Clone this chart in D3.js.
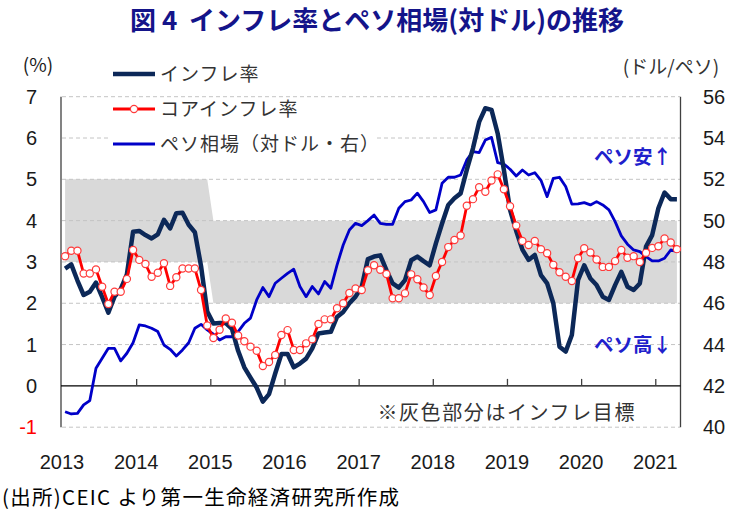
<!DOCTYPE html>
<html><head><meta charset="utf-8">
<script src="https://cdn.jsdelivr.net/npm/d3@7/dist/d3.min.js"></script>
<style>
body{margin:0;background:#fff}
svg{display:block}
text{font-family:"Noto Sans CJK JP","Noto Sans",sans-serif}
</style>
</head><body>
<svg id="chart" width="739" height="517"></svg>
<script>
// ---- data (monthly, Jan 2013 – Apr 2021) ----
const years = ["2013","2014","2015","2016","2017","2018","2019","2020","2021"];
const inflation = [2.84,2.94,2.55,2.20,2.28,2.50,2.15,1.77,2.16,2.34,2.70,3.73,
  3.75,3.65,3.57,3.67,4.02,3.81,4.18,4.19,3.90,3.72,2.90,1.80,
  1.51,1.52,1.52,1.38,0.85,0.45,0.20,-0.04,-0.38,-0.20,0.30,0.77,
  0.77,0.45,0.54,0.66,0.91,1.27,1.29,1.31,1.67,1.79,2.00,2.16,
  2.40,3.07,3.13,3.16,2.80,2.48,2.38,2.56,3.04,3.13,3.02,2.92,
  3.45,3.93,4.38,4.54,4.66,5.23,5.75,6.39,6.72,6.68,6.11,5.23,
  4.26,3.75,3.30,3.05,3.17,2.68,2.48,2.00,0.95,0.83,1.23,2.56,
  2.92,2.60,2.44,2.16,2.08,2.44,2.76,2.40,2.32,2.48,
  3.37,3.65,4.30,4.68,4.52,4.52];
const coreInflation = [3.14,3.27,3.27,2.72,2.72,2.82,2.40,1.98,2.28,2.28,2.59,3.29,
  3.05,2.95,2.64,2.74,2.97,2.42,2.63,2.84,2.84,2.84,2.32,1.46,
  1.16,1.36,1.63,1.53,1.22,1.08,0.95,0.85,0.48,0.58,0.75,1.23,
  1.35,0.87,0.87,1.03,1.13,1.50,1.61,1.61,1.88,2.00,2.25,2.36,
  2.32,2.80,2.92,2.81,2.71,2.12,2.12,2.24,2.70,2.58,2.38,2.20,
  2.66,3.00,3.36,3.53,3.64,4.36,4.52,4.81,4.70,4.97,5.12,4.76,
  4.35,3.88,3.51,3.41,3.51,3.31,3.21,2.93,2.75,2.64,2.54,3.09,
  3.33,3.23,3.06,2.88,2.88,3.02,3.29,3.10,3.14,3.00,
  3.22,3.34,3.38,3.57,3.47,3.31];
const peso = [40.75,40.64,40.67,41.08,41.29,42.85,43.34,43.82,43.82,43.21,43.58,44.09,
  44.95,44.90,44.79,44.63,43.98,43.77,43.45,43.74,44.09,44.79,44.98,44.71,
  44.50,44.22,44.38,44.38,44.63,45.03,45.28,46.16,46.76,46.32,46.97,47.21,
  47.45,47.65,46.81,46.32,46.81,46.45,47.05,46.73,47.85,48.82,49.55,49.87,
  49.76,50.00,50.27,49.87,49.82,49.82,50.60,50.92,51.00,51.33,50.92,50.39,
  50.52,51.81,52.10,52.10,52.21,52.94,53.34,53.29,53.90,54.03,52.81,52.74,
  52.49,52.16,52.45,52.21,52.32,51.95,51.16,52.05,52.10,51.65,50.80,50.81,
  50.87,50.76,50.92,50.76,50.52,49.95,49.26,48.86,48.58,48.50,
  48.26,48.05,48.05,48.18,48.58,48.50];
// inflation target band: start month index, low, high
const targetStart = [0, 24];
const targetLow = [3, 2];
const targetHigh = [5, 4];
const leftTicks = [-1,0,1,2,3,4,5,6,7];
const rightTicks = [40,42,44,46,48,50,52,54,56];
const legendLabels = ["インフレ率","コアインフレ率","ペソ相場（対ドル・右）"];

// ---- layout ----
const svg = d3.select("#chart");
const nMonths = inflation.length;
const x = d3.scaleLinear().domain([0, nMonths]).range([62, 680]);
const yL = d3.scaleLinear().domain([-1, 7]).range([427.2, 96.7]);
const yR = d3.scaleLinear().domain([40, 56]).range([427.2, 96.7]);
const mx = i => x(i + 0.5);

// title
svg.append("text").attr("x", 377).attr("y", 30).attr("text-anchor","middle")
  .attr("font-size", 26).attr("font-weight", 700).attr("fill", "#14148a")
  .style("white-space","pre")
  .text("図 4  インフレ率とペソ相場(対ドル)の推移");

// target band
const band = d3.range(nMonths).map(i => {
  let k = 0; targetStart.forEach((s, j) => { if (i >= s) k = j; });
  return {i, lo: targetLow[k], hi: targetHigh[k]};
});
svg.append("path").datum(band)
  .attr("d", d3.area().x(d => mx(d.i)).y0(d => yL(d.lo)).y1(d => yL(d.hi)))
  .attr("fill", "#d9d9d9");

// gridlines
svg.append("g").selectAll("line").data(leftTicks.filter(t => t !== 0)).join("line")
  .attr("x1", 62).attr("x2", 680).attr("y1", d => yL(d)).attr("y2", d => yL(d))
  .attr("stroke", "#c4c4c4").attr("stroke-width", 1).attr("stroke-dasharray", "4,3");

// legend background (covers gridline)
svg.append("rect").attr("x", 109).attr("y", 130).attr("width", 268).attr("height", 27).attr("fill", "#fff");

// axes lines
svg.append("line").attr("x1", 61).attr("x2", 61).attr("y1", 96.7).attr("y2", 427.2)
  .attr("stroke", "#404040").attr("stroke-width", 1.3);
svg.append("line").attr("x1", 680.5).attr("x2", 680.5).attr("y1", 96.7).attr("y2", 427.2)
  .attr("stroke", "#404040").attr("stroke-width", 1.3);
const xAxis = d3.axisTop(x).tickValues(d3.range(12, nMonths, 12)).tickSize(7).tickFormat("");
const gx = svg.append("g").attr("transform", `translate(0,${yL(0)})`).call(xAxis);
gx.select(".domain").attr("d", `M61,0H680.5`).attr("stroke", "#000").attr("stroke-width", 1.3);
gx.selectAll(".tick line").attr("stroke", "#404040").attr("stroke-width", 1.3);

// year labels
svg.append("g").selectAll("text").data(years).join("text")
  .attr("x", (d, i) => x(i * 12)).attr("y", 469).attr("text-anchor", "middle")
  .attr("font-size", 20).attr("fill", "#1a1a1a")
  .style("font-family", "'Liberation Sans', Arial, sans-serif").text(d => d);

// left ticks
svg.append("g").selectAll("text").data(leftTicks).join("text")
  .attr("x", 37).attr("y", d => yL(d) + 7).attr("text-anchor", "end")
  .attr("font-size", 20).attr("fill", d => d < 0 ? "#ff0000" : "#1a1a1a")
  .style("font-family", "'Liberation Sans', Arial, sans-serif").text(d => d);
// right ticks
svg.append("g").selectAll("text").data(rightTicks).join("text")
  .attr("x", 703).attr("y", d => yR(d) + 7).attr("text-anchor", "start")
  .attr("font-size", 20).attr("fill", "#1a1a1a")
  .style("font-family", "'Liberation Sans', Arial, sans-serif").text(d => d);

// unit labels
svg.append("text").attr("x", 38).attr("y", 72).attr("text-anchor","middle")
  .attr("font-size", 19).attr("fill", "#1a1a1a").text("(%)");
svg.append("text").attr("x", 671).attr("y", 74).attr("text-anchor","middle")
  .attr("font-size", 19).attr("fill", "#333").text("(ドル/ペソ)");

// series
const lineL = arr => d3.line().x((d, i) => mx(i)).y(d => yL(d))(arr);
const lineR = arr => d3.line().x((d, i) => mx(i)).y(d => yR(d))(arr);

svg.append("path").attr("d", lineR(peso)).attr("fill", "none")
  .attr("stroke", "#0000c8").attr("stroke-width", 2.8).attr("stroke-linejoin", "round");
svg.append("path").attr("d", lineL(inflation)).attr("fill", "none")
  .attr("stroke", "#0c2858").attr("stroke-width", 4.5).attr("stroke-linejoin", "round");
svg.append("path").attr("d", lineL(coreInflation)).attr("fill", "none")
  .attr("stroke", "#ff0000").attr("stroke-width", 2.8).attr("stroke-linejoin", "round");
svg.append("g").selectAll("circle").data(coreInflation).join("circle")
  .attr("cx", (d, i) => mx(i)).attr("cy", d => yL(d)).attr("r", 3.6)
  .attr("fill", "#fff").attr("stroke", "#ff3b3b").attr("stroke-width", 1.2);

// legend
const legY = [74, 109, 144];
const legColor = ["#0c2858", "#ff0000", "#0000c8"];
const legW = [4.5, 2.8, 2.8];
legendLabels.forEach((lab, k) => {
  svg.append("line").attr("x1", 113).attr("x2", 155).attr("y1", legY[k]).attr("y2", legY[k])
    .attr("stroke", legColor[k]).attr("stroke-width", legW[k]);
  if (k === 1) svg.append("circle").attr("cx", 134).attr("cy", legY[k]).attr("r", 3.6)
    .attr("fill", "#fff").attr("stroke", "#ff3b3b").attr("stroke-width", 1.2);
  svg.append("text").attr("x", 160).attr("y", legY[k] + 7).attr("font-size", 19)
    .attr("letter-spacing", 1).attr("fill", "#333").text(lab);
});

// annotations
svg.append("text").attr("x", 672).attr("y", 164).attr("text-anchor","end")
  .attr("font-size", 19.5).attr("font-weight", 700).attr("fill", "#2020cc").text("ペソ安↑");
svg.append("text").attr("x", 672).attr("y", 352).attr("text-anchor","end")
  .attr("font-size", 19.5).attr("font-weight", 700).attr("fill", "#2020cc").text("ペソ高↓");
svg.append("text").attr("x", 636).attr("y", 420).attr("text-anchor","end")
  .attr("font-size", 20).attr("letter-spacing", 1.6).attr("fill", "#333").text("※灰色部分はインフレ目標");

// source
svg.append("text").attr("x", 2).attr("y", 505).attr("font-size", 20.5)
  .attr("letter-spacing", 1.3).attr("fill", "#000").text("(出所)CEIC より第一生命経済研究所作成");
</script>
</body></html>
